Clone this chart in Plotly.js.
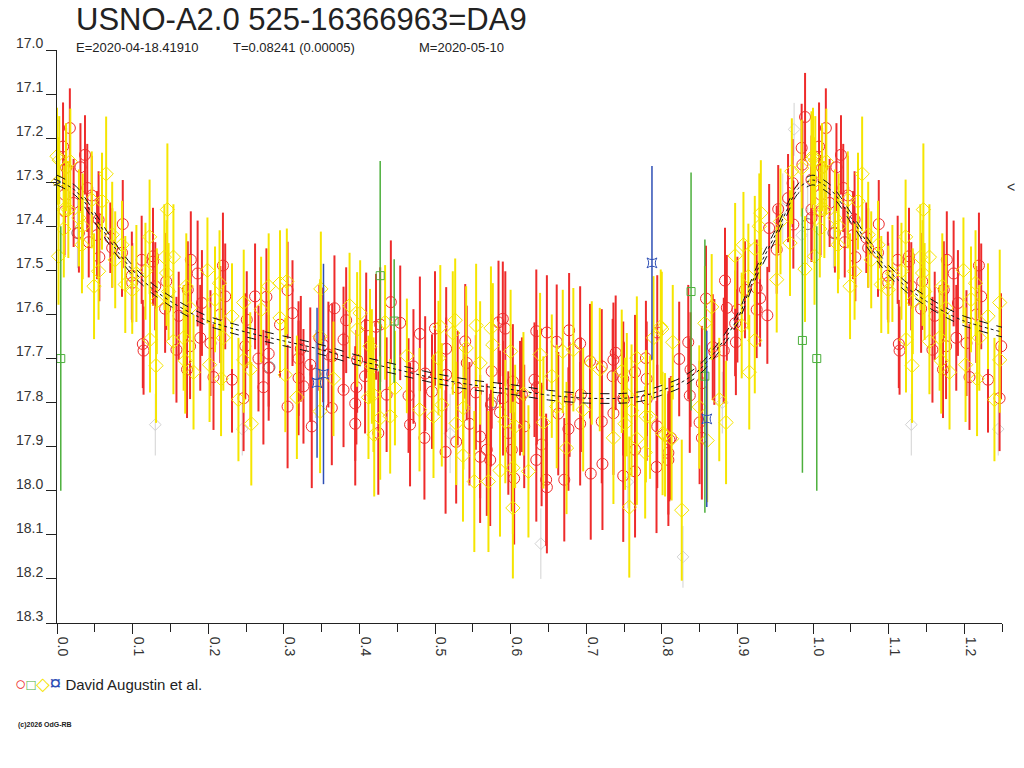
<!DOCTYPE html>
<html>
<head>
<meta charset="utf-8">
<script src="https://cdn.plot.ly/plotly-3.0.1.min.js"></script>
<style>
  html, body { margin: 0; padding: 0; background: #fff; }
  #chart { width: 1024px; height: 768px; }
</style>
</head>
<body>
<div id="chart"></div>
<script>
// Phased light curve, USNO-A2.0 525-16366963 = DA9

// Red circles
const redPhase = [
  0.008,0.010,0.010,0.012,0.017,0.022,0.029,0.031,0.037,0.040,
  0.042,0.046,0.053,0.055,0.056,0.0705,0.073,0.086,0.087,0.099,
  0.0995,0.112,0.1135,0.1145,0.127,0.127,0.130,0.143,0.1445,0.158,
  0.161,0.172,0.173,0.176,0.177,0.186,0.1895,0.1917,0.203,0.207,
  0.216,0.2195,0.2225,0.2315,0.2468,0.249,0.251,
  0.262,0.2665,0.273,0.277,0.280,0.280,0.295,0.305,0.305,0.3115,
  0.3195,0.3195,0.3225,0.326,0.335,0.337,0.347,0.352,0.359,0.3635,
  0.364,0.367,0.379,0.379,0.3825,0.3945,0.3945,0.396,0.397,0.4075,
  0.409,0.422,0.425,
  0.4275,0.436,0.4416,0.454,0.465,0.467,0.4715,0.480,0.486,0.487,
  0.496,0.500,0.514,0.5148,0.5148,0.528,0.530,0.540,0.542,0.5456,
  0.554,0.5597,0.5597,0.5685,0.573,0.574,0.575,0.584,0.586,0.5897,
  0.590,0.593,0.597,0.6016,0.603,0.6047,0.6125,0.615,0.618,0.6316,
  0.634,0.634,0.6347,0.641,0.647,0.648,0.648,0.661,0.663,0.671,
  0.6765,0.6774,0.678,0.692,0.692,0.693,0.705,0.706,0.7206,0.7206,
  0.7215,0.735,0.736,0.736,0.739,0.749,0.749,0.749,0.750,0.7646,
  0.7646,0.7646,0.779,0.780,0.780,0.793,0.794,0.794,0.8087,0.8087,
  0.810,0.812,0.823,0.835,0.837,0.838,0.850,0.853,0.853,0.8585,
  0.8674,0.8695,0.882,0.8836,0.886,0.897,0.898,0.900,0.910,0.9255,
  0.9255,0.930,0.9396,0.942,0.952,0.954,0.967,0.973,0.974,0.985,
  0.986,0.9895,0.998,0.998,0.998
];
const redMag = [
  17.219,17.328,17.366,17.267,17.177,17.347,17.415,17.266,17.238,17.313,
  17.436,17.330,17.420,17.385,17.470,17.426,17.449,17.460,17.395,17.512,
  17.528,17.476,17.667,17.682,17.468,17.480,17.536,17.587,17.525,17.680,
  17.603,17.725,17.544,17.672,17.476,17.507,17.653,17.574,17.665,17.742,
  17.600,17.489,17.559,17.748,17.790,17.672,17.612,
  17.559,17.700,17.765,17.560,17.689,17.721,17.623,17.545,17.809,17.597,
  17.700,17.744,17.678,17.763,17.714,17.854,17.653,17.669,17.691,17.812,
  17.695,17.586,17.657,17.771,17.613,17.802,17.848,17.765,17.703,17.740,
  17.625,17.628,17.869,
  17.623,17.782,17.572,17.619,17.784,17.850,17.718,17.644,17.880,17.734,
  17.775,17.632,17.912,17.678,17.737,17.889,17.767,17.661,17.710,17.848,
  17.777,17.877,17.923,17.907,17.930,17.805,17.729,17.618,17.822,17.610,
  17.790,17.632,17.869,17.907,17.752,17.972,17.790,17.782,17.854,17.748,
  17.638,17.930,17.765,17.895,17.975,17.641,17.992,17.662,17.825,17.975,
  17.860,17.636,17.793,17.666,17.848,17.782,17.706,17.961,17.718,17.843,
  17.939,17.740,17.703,17.824,17.687,17.746,17.790,17.966,17.793,17.731,
  17.907,17.956,17.699,17.746,17.792,17.946,17.641,17.854,17.914,17.930,
  17.884,17.880,17.701,17.663,17.784,17.725,17.845,17.756,17.880,17.564,
  17.674,17.685,17.682,17.523,17.585,17.620,17.663,17.589,17.544,17.540,
  17.589,17.563,17.602,17.404,17.453,17.361,17.336,17.302,17.396,17.222,
  17.260,17.152,17.294,17.362,17.381
];
const redErr = [
  0.10,0.09,0.10,0.09,0.09,0.10,0.09,0.10,0.09,0.10,
  0.08,0.09,0.10,0.11,0.10,0.08,0.09,0.10,0.10,0.10,
  0.09,0.10,0.10,0.10,0.11,0.10,0.10,0.10,0.11,0.12,
  0.10,0.11,0.11,0.12,0.11,0.12,0.12,0.12,0.12,0.12,
  0.11,0.12,0.12,0.12,0.12,0.12,0.11,
  0.12,0.12,0.13,0.11,0.12,0.12,0.12,0.11,0.14,0.12,
  0.13,0.13,0.12,0.13,0.13,0.14,0.12,0.13,0.12,0.13,
  0.12,0.12,0.12,0.13,0.12,0.13,0.14,0.13,0.12,0.13,
  0.12,0.12,0.14,
  0.13,0.13,0.14,0.13,0.13,0.14,0.13,0.13,0.14,0.13,
  0.13,0.13,0.14,0.14,0.13,0.14,0.13,0.13,0.13,0.14,
  0.13,0.14,0.15,0.15,0.15,0.14,0.13,0.14,0.14,0.13,
  0.13,0.13,0.14,0.14,0.13,0.15,0.13,0.13,0.14,0.13,
  0.14,0.14,0.13,0.14,0.15,0.13,0.15,0.13,0.14,0.14,
  0.14,0.13,0.13,0.13,0.14,0.13,0.13,0.15,0.13,0.14,
  0.15,0.13,0.13,0.14,0.13,0.13,0.13,0.15,0.13,0.13,
  0.14,0.15,0.13,0.13,0.14,0.15,0.13,0.14,0.14,0.15,
  0.14,0.14,0.13,0.13,0.13,0.13,0.14,0.13,0.14,0.12,
  0.12,0.12,0.12,0.12,0.12,0.12,0.12,0.12,0.11,0.11,
  0.11,0.11,0.11,0.10,0.10,0.10,0.10,0.10,0.10,0.10,
  0.10,0.10,0.10,0.10,0.10
];

// Yellow diamonds
const yelPhase = [
  0.000,0.002,0.002,0.003,0.009,0.009,0.012,0.015,0.0176,0.029,
  0.033,0.034,0.046,0.049,0.055,0.0595,0.065,0.073,0.077,0.086,
  0.0903,0.0995,0.105,0.117,0.1225,0.123,0.131,0.132,0.142,0.145,
  0.146,0.1476,0.154,0.154,0.1675,0.1696,0.171,0.176,0.1806,0.199,
  0.2018,0.209,0.215,0.217,0.220,0.2315,0.240,0.247,0.247,0.2556,
  0.257,0.270,0.280,0.295,0.295,0.302,0.304,0.3173,0.348,0.348,
  0.349,0.3657,0.387,0.397,0.401,0.412,0.414,0.4165,0.4186,0.4196,
  0.4275,0.434,0.4407,0.447,0.4628,0.4795,0.498,0.5046,0.507,0.509,
  0.5235,0.5267,0.528,0.537,0.5376,0.5412,0.552,0.5544,0.5597,0.5707,
  0.574,0.5765,0.586,0.593,0.600,0.603,0.603,0.606,0.617,0.6236,
  0.639,0.6434,0.6545,0.661,0.669,0.674,0.683,0.696,0.7074,0.718,
  0.736,0.747,0.7514,0.7537,0.757,0.760,0.767,0.767,0.778,0.779,
  0.7845,0.789,0.7986,0.800,0.801,0.8043,0.813,0.8145,0.8264,0.8496,
  0.857,0.860,0.866,0.876,0.885,0.897,0.9057,0.908,0.9145,0.9157,
  0.923,0.923,0.929,0.931,0.952,0.957,0.9696,0.972,0.985,0.9894,
  0.998
];
const yelMag = [
  17.241,17.298,17.468,17.250,17.362,17.406,17.266,17.362,17.253,17.381,
  17.442,17.400,17.340,17.536,17.502,17.343,17.281,17.419,17.476,17.442,
  17.532,17.544,17.507,17.502,17.424,17.657,17.716,17.570,17.470,17.506,
  17.362,17.548,17.470,17.661,17.653,17.705,17.536,17.585,17.731,17.500,
  17.714,17.566,17.529,17.746,17.653,17.604,17.793,17.573,17.703,17.725,
  17.848,17.589,17.536,17.529,17.608,17.737,17.525,17.788,17.650,17.820,
  17.542,17.746,17.580,17.634,17.597,17.788,17.672,17.718,17.782,17.873,
  17.835,17.618,17.831,17.767,17.694,17.816,17.831,17.699,17.628,17.805,
  17.642,17.613,17.847,17.920,17.812,17.676,17.979,17.625,17.710,17.979,
  17.631,17.669,17.954,17.843,17.684,17.948,18.039,17.854,17.780,17.956,
  17.691,17.845,17.740,17.809,17.684,17.903,17.680,17.816,17.710,17.725,
  17.880,17.729,17.848,17.782,18.037,17.818,17.699,17.882,17.913,17.831,
  17.833,17.653,17.628,17.633,17.870,17.873,17.882,17.663,18.044,17.810,
  17.620,17.886,17.583,17.793,17.845,17.467,17.625,17.442,17.514,17.731,
  17.451,17.659,17.400,17.370,17.521,17.389,17.438,17.275,17.268,17.497,
  17.249
];
const yelErr = [
  0.11,0.10,0.11,0.10,0.10,0.11,0.10,0.11,0.12,0.11,
  0.11,0.12,0.11,0.12,0.11,0.11,0.13,0.12,0.11,0.10,
  0.11,0.10,0.11,0.11,0.13,0.12,0.13,0.12,0.12,0.12,
  0.15,0.11,0.12,0.12,0.12,0.12,0.12,0.12,0.13,0.12,
  0.13,0.12,0.12,0.13,0.12,0.12,0.14,0.12,0.12,0.13,
  0.14,0.12,0.12,0.12,0.12,0.13,0.12,0.14,0.13,0.14,
  0.13,0.13,0.12,0.13,0.12,0.14,0.13,0.13,0.13,0.14,
  0.14,0.13,0.13,0.13,0.13,0.14,0.14,0.13,0.14,0.14,
  0.14,0.14,0.14,0.15,0.14,0.14,0.16,0.14,0.14,0.16,
  0.14,0.14,0.15,0.14,0.14,0.15,0.16,0.14,0.14,0.15,
  0.14,0.15,0.14,0.14,0.14,0.15,0.14,0.14,0.14,0.14,
  0.15,0.14,0.15,0.14,0.16,0.15,0.14,0.15,0.15,0.15,
  0.14,0.14,0.13,0.13,0.14,0.14,0.14,0.13,0.16,0.14,
  0.13,0.14,0.12,0.14,0.14,0.12,0.12,0.12,0.12,0.13,
  0.12,0.12,0.12,0.12,0.12,0.12,0.12,0.12,0.11,0.12,
  0.11
];

// Light grey points (faint diamonds) and dark grey circles
const greyPhase = [0.130, 0.245, 0.520, 0.640, 0.755, 0.828, 0.880, 0.960, 0.975, 0.985];
const greyMag   = [17.850, 17.860, 17.870, 18.120, 17.980, 18.150, 17.800, 17.360, 17.180, 17.420];
const greyErr   = [0.07, 0.06, 0.09, 0.08, 0.06, 0.07, 0.07, 0.08, 0.06, 0.09];
const darkPhase = [0.027, 0.281, 0.342, 0.575, 0.993];
const darkMag   = [17.415, 17.720, 17.735, 17.800, 17.395];
const darkErr   = [0.08, 0.10, 0.10, 0.11, 0.09];

// Green squares
const grnPhase = [0.005, 0.4275, 0.446, 0.8387, 0.857, 0.986];
const grnMag   = [17.700, 17.512, 17.615, 17.548, 17.740, 17.659];
const grnErr   = [0.30, 0.26, 0.14, 0.27, 0.31, 0.30];

// Blue stars
const bluPhase = [0.344, 0.3525, 0.787, 0.8595];
const bluMag   = [17.755, 17.735, 17.483, 17.837];
const bluErr   = [0.17, 0.25, 0.22, 0.20];

// Fitted light curve and its band half-width
const modelPhase = [0.000,0.025,0.050,0.075,0.100,0.125,0.150,0.175,0.200,0.250,
                    0.300,0.350,0.400,0.450,0.500,0.550,0.600,0.650,0.700,0.750,
                    0.775,0.800,0.825,0.850,0.875,0.900,0.925,0.950,0.965,0.980,1.000];
const modelMag   = [17.295,17.320,17.380,17.445,17.500,17.540,17.570,17.595,17.615,17.640,
                    17.660,17.680,17.705,17.725,17.745,17.760,17.770,17.783,17.790,17.790,
                    17.785,17.772,17.755,17.725,17.675,17.610,17.505,17.420,17.365,17.315,17.295];
const modelBand = 0.011;

const PHASE_MAX = 1.25;
const FONT = 'Liberation Sans, Arial, sans-serif';

// Repeat phases 0..0.25 after phase 1, as the plot runs to 1.25.
function wrap(phase, vals) {
  const xs = phase.slice(), ys = vals.slice();
  phase.forEach((p, i) => {
    if (p + 1 <= PHASE_MAX + 1e-9) { xs.push(p + 1); ys.push(vals[i]); }
  });
  return [xs, ys];
}

function pointTrace(phase, mag, err, opts) {
  const [x, y] = wrap(phase, mag);
  const [, e] = wrap(phase, err);
  return {
    x: x, y: y, type: 'scatter', mode: 'markers', cliponaxis: false,
    marker: {
      symbol: opts.symbol, size: opts.size, color: opts.color,
      line: { color: opts.color, width: 1 }
    },
    error_y: {
      type: 'data', array: e, visible: true,
      color: opts.barColor || opts.color, thickness: opts.thick, width: 0
    },
    hoverinfo: 'skip'
  };
}

const traces = [
  pointTrace(greyPhase, greyMag, greyErr, { symbol: 'diamond-open', size: 9, color: '#d2d2d2', thick: 1 }),
  pointTrace(darkPhase, darkMag, darkErr, { symbol: 'circle-open', size: 11, color: '#707070', barColor: '#cfcfcf', thick: 1 }),
  pointTrace(redPhase, redMag, redErr, { symbol: 'circle-open', size: 11, color: '#ee2b2b', thick: 2 }),
  pointTrace(yelPhase, yelMag, yelErr, { symbol: 'diamond-open', size: 11, color: '#f5e500', thick: 2 }),
  pointTrace(grnPhase, grnMag, grnErr, { symbol: 'square-open', size: 8, color: '#4caf3c', thick: 1.5 }),
  pointTrace(bluPhase, bluMag, bluErr, { symbol: 'star-square-open', size: 9, color: '#2e4fb5', thick: 1.5 })
];

// Model curve with upper and lower band
const [mx, my] = wrap(modelPhase.slice(0, -1), modelMag.slice(0, -1));
const order = mx.map((v, i) => i).sort((a, b) => mx[a] - mx[b]);
const curveX = order.map(i => mx[i]);
const curveY = order.map(i => my[i]);
[[-modelBand, 'dash'], [0, 'dot'], [modelBand, 'dash']].forEach(([off, dash]) => {
  traces.push({
    x: curveX, y: curveY.map(v => v + off), type: 'scatter', mode: 'lines',
    line: { color: '#111', width: 1, dash: dash, shape: 'spline', smoothing: 0.8 },
    hoverinfo: 'skip'
  });
});

// Page-pixel helpers for text placement
const PL = 57, PR = 1002, PT = 50, PB = 623;
const px = v => (v - PL) / (PR - PL);
const py = v => (PB - v) / (PB - PT);

const legendText =
  '<span style="color:#ee2b2b;font-size:19px">○</span>' +
  '<span style="color:#4caf3c;font-size:15px">□</span>' +
  '<span style="color:#f5e500;font-size:18px">◇</span>' +
  '<span style="color:#2e4fb5;font-size:21px">¤</span>' +
  '<span style="color:#222"> David Augustin et al.</span>';

const annotations = [
  { text: 'USNO-A2.0 525-16366963=DA9', x: px(74), y: py(19), xanchor: 'left', yanchor: 'middle',
    font: { family: FONT, size: 31, color: '#222' } },
  { text: 'E=2020-04-18.41910', x: px(74), y: py(47), xanchor: 'left', yanchor: 'middle',
    font: { family: FONT, size: 13, color: '#222' } },
  { text: 'T=0.08241 (0.00005)', x: px(231), y: py(47), xanchor: 'left', yanchor: 'middle',
    font: { family: FONT, size: 13, color: '#222' } },
  { text: 'M=2020-05-10', x: px(417), y: py(47), xanchor: 'left', yanchor: 'middle',
    font: { family: FONT, size: 13, color: '#222' } },
  { text: legendText, x: px(13), y: py(683), xanchor: 'left', yanchor: 'middle',
    font: { family: FONT, size: 15, color: '#222' } },
  { text: '<b>(c)2026 OdG-RB</b>', x: px(16), y: py(725), xanchor: 'left', yanchor: 'middle',
    font: { family: FONT, size: 7, color: '#222' } },
  { text: '>', xref: 'paper', yref: 'y', x: 0, y: 17.30, xanchor: 'center', yanchor: 'middle',
    font: { family: FONT, size: 14, color: '#333' } },
  { text: '<', xref: 'paper', yref: 'y', x: 1.003, y: 17.31, xanchor: 'left', yanchor: 'middle',
    font: { family: FONT, size: 14, color: '#333' } }
].map(a => Object.assign({ xref: 'paper', yref: 'paper', showarrow: false }, a));

const layout = {
  width: 1024, height: 768,
  margin: { l: PL, r: 1024 - PR, t: PT, b: 768 - PB },
  paper_bgcolor: '#fff', plot_bgcolor: '#fff',
  showlegend: false,
  xaxis: {
    range: [0, PHASE_MAX], tick0: 0, dtick: 0.1, tickformat: '.1f',
    ticks: 'outside', ticklen: 10, tickcolor: '#222', tickwidth: 1,
    tickangle: 90, ticklabelshift: 6,
    minor: { dtick: 0.05, ticks: 'outside', ticklen: 8, tickcolor: '#222', showgrid: false },
    showline: true, linecolor: '#222', linewidth: 1,
    showgrid: false, zeroline: false,
    tickfont: { family: FONT, size: 14, color: '#333' }
  },
  yaxis: {
    range: [18.3, 17.0], tick0: 17, dtick: 0.1, tickformat: '.1f',
    ticks: 'outside', ticklen: 10, tickcolor: '#222', tickwidth: 1,
    ticklabelshift: 7, ticklabelstandoff: 0,
    showline: true, linecolor: '#222', linewidth: 1,
    showgrid: false, zeroline: false,
    tickfont: { family: FONT, size: 14, color: '#333' }
  },
  annotations: annotations
};

Plotly.newPlot('chart', traces, layout, { staticPlot: true, displayModeBar: false });
</script>
</body>
</html>
